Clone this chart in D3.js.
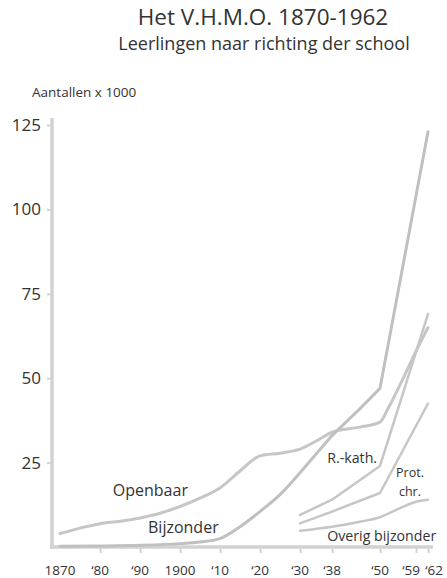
<!DOCTYPE html>
<html><head><meta charset="utf-8">
<script src="https://cdn.jsdelivr.net/npm/d3@7"></script>
<style>
html,body{margin:0;padding:0;background:#fff;}
svg{display:block;font-family:"Open Sans","Noto Sans",sans-serif;}
</style></head>
<body><svg id="chart" width="447" height="578"></svg>
<script>
// ---- data (aantallen x 1000) ----
const openbaarYears  = [1870,1875,1880,1885,1890,1895,1900,1905,1910,1915,1920,1925,1930,1935,1938,1945,1950,1952,1955,1959,1962];
const openbaarValues = [4,5.6,6.9,7.6,8.6,10,12,14.5,17.5,22.5,27,27.8,29,32,34,35.5,37,41,48,58,65];
const bijzonderYears  = [1870,1880,1890,1900,1905,1910,1915,1920,1925,1930,1938,1945,1950,1962];
const bijzonderValues = [0.2,0.3,0.5,1,1.5,2.5,6,10.5,15.5,22,33,41,47,123];
const rkathYears  = [1930,1938,1950,1962];
const rkathValues = [9.5,14,24,69];
const protYears   = [1930,1938,1950,1962];
const protValues  = [7,10.5,16,42.5];
const overigYears  = [1930,1938,1945,1950,1955,1959,1962];
const overigValues = [4.8,6,7.5,8.8,11.5,13.4,14];
const xTickYears  = [1880,1890,1900,1910,1920,1930,1938,1950,1959,1962];
const xLabelYears = [1870,1880,1890,1900,1910,1920,1930,1938,1950,1959,1962];
const xTickLabels = ["1870","‘80","‘90","1900","‘10","‘20","‘30","‘38","‘50","‘59","‘62"];
const yTicks = [25,50,75,100,125];

const svg = d3.select("#chart");
const x = d3.scaleLinear().domain([1870,1962]).range([60,428]);
const y = d3.scaleLinear().domain([0,125]).range([547,125]);
const lineCol = "#c6c6c6", axisCol = "#d2d2d2", textCol = "#333";

// titles
svg.append("text").attr("x",263).attr("y",25).attr("text-anchor","middle")
  .attr("font-size",22.5).attr("fill",textCol).text("Het V.H.M.O. 1870-1962");
svg.append("text").attr("x",264).attr("y",50).attr("text-anchor","middle")
  .attr("font-size",18).attr("fill",textCol).text("Leerlingen naar richting der school");
svg.append("text").attr("x",32).attr("y",97)
  .attr("font-size",13.5).attr("fill",textCol).text("Aantallen x 1000");

// y axis
const yAxis = d3.axisLeft(y).tickValues(yTicks).tickSize(5).tickPadding(6);
const gy = svg.append("g").attr("transform","translate(52,0)").call(yAxis);
gy.select(".domain").remove();
gy.selectAll(".tick line").attr("stroke",axisCol).attr("stroke-width",2);
gy.selectAll(".tick text").attr("font-size",17).attr("fill",textCol).attr("font-family","Open Sans");
svg.append("line").attr("x1",52).attr("x2",52).attr("y1",118).attr("y2",549)
  .attr("stroke",axisCol).attr("stroke-width",3.5);

// x axis
const xAxis = d3.axisBottom(x).tickValues(xTickYears).tickSize(6).tickFormat(()=>"");
const gx = svg.append("g").attr("transform","translate(0,547)").call(xAxis);
gx.select(".domain").remove();
gx.selectAll(".tick line").attr("stroke",axisCol).attr("stroke-width",2);
svg.append("line").attr("x1",50).attr("x2",433).attr("y1",547).attr("y2",547)
  .attr("stroke",axisCol).attr("stroke-width",3.5);
const labelShift = {1959:-5, 1962:6};
svg.append("g").selectAll("text").data(xLabelYears).join("text")
  .attr("x",d=>x(d)+(labelShift[d]||0)).attr("y",575).attr("text-anchor","middle")
  .attr("font-size",13.5).attr("fill",textCol)
  .text((d,i)=>xTickLabels[i]);

// lines
function pathFor(years, vals, curve, smoothUntil){
  const data = years.map((yr,i)=>[yr,vals[i]]);
  const gen = d3.line().x(d=>x(d[0])).y(d=>y(d[1]));
  if (smoothUntil == null) return gen.curve(curve)(data);
  const a = data.filter(d=>d[0]<=smoothUntil), b = data.filter(d=>d[0]>smoothUntil);
  return gen.curve(curve)(a) + b.map(d=>"L"+x(d[0])+","+y(d[1])).join("");
}
function drawLine(years, vals, w, curve, smoothUntil, col){
  svg.append("path")
    .attr("fill","none").attr("stroke",col||lineCol).attr("stroke-width",w)
    .attr("stroke-linejoin","round").attr("stroke-linecap","round")
    .attr("d", pathFor(years, vals, curve, smoothUntil));
}
drawLine(openbaarYears, openbaarValues, 3, d3.curveMonotoneX);
drawLine(bijzonderYears, bijzonderValues, 3, d3.curveMonotoneX, 1930, "#c0c0c0");
drawLine(rkathYears, rkathValues, 2.5, d3.curveLinear);
drawLine(protYears, protValues, 2.5, d3.curveLinear);
drawLine(overigYears, overigValues, 2.5, d3.curveMonotoneX);

// series labels
const lab = (t,px,py,fs,anchor)=>svg.append("text").attr("x",px).attr("y",py)
  .attr("font-size",fs).attr("fill",textCol).attr("text-anchor",anchor||"start").text(t);
lab("Openbaar", x(1883.2), y(15.1), 16);
lab("Bijzonder", x(1892), y(4.1), 16);
lab("R.-kath.", x(1936.8), y(24.8), 14.2);
lab("Prot.", x(1957.5), y(20.6), 12.5, "middle");
lab("chr.", x(1957.5), y(15.2), 12.5, "middle");
lab("Overig bijzonder", x(1936.8), y(1.8), 14.2);
</script></body></html>
